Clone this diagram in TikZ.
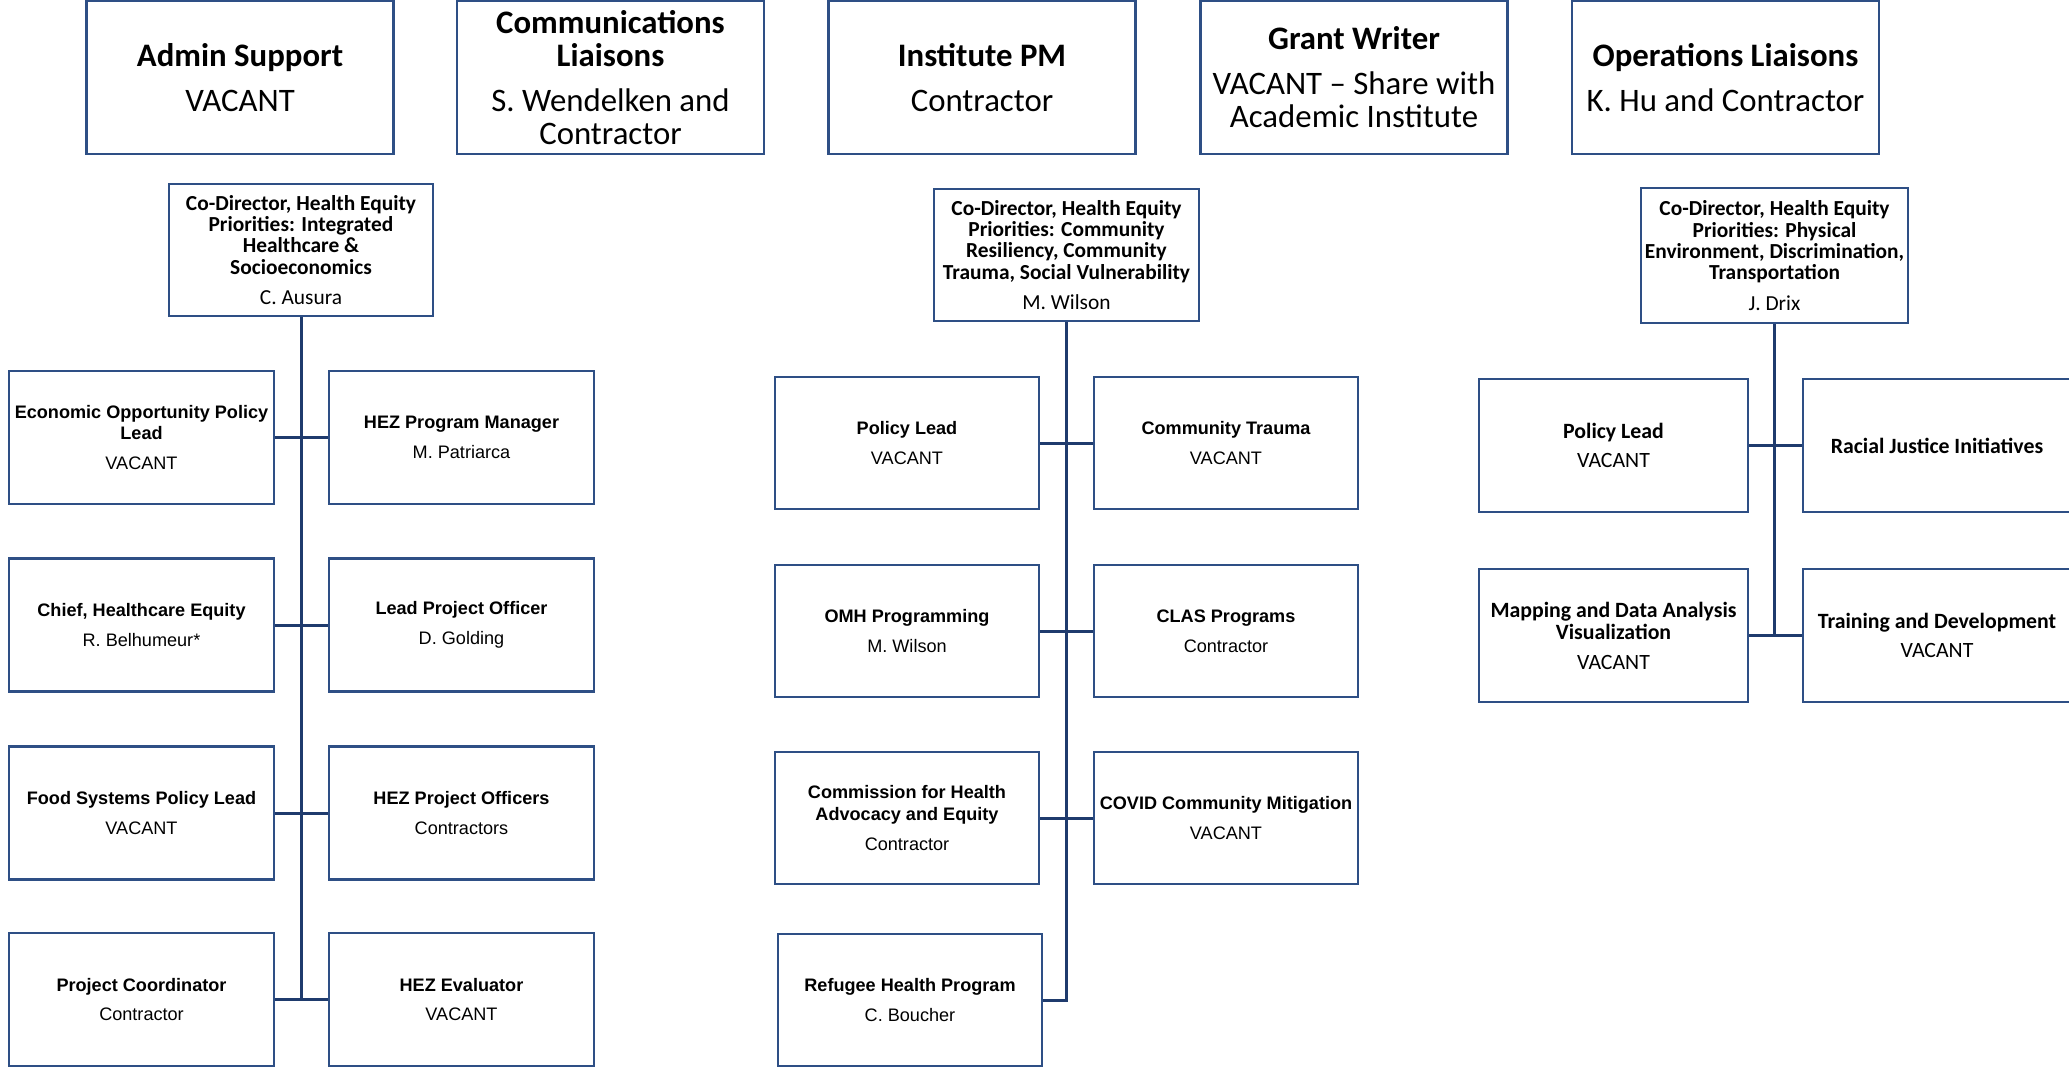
\documentclass[tikz,border=0pt]{standalone}
\usepackage{fontspec}
\setmainfont{Liberation Sans}
\newfontfamily\condf{Carlito}
\definecolor{linec}{HTML}{1F3B6D}
\definecolor{borderc}{HTML}{2E4F85}
\tikzset{
  box/.style={draw=borderc, line width=2.5pt, fill=white, align=center, inner sep=1pt},
  topbox/.style={box, minimum width=307pt, minimum height=153pt, font=\condf\fontsize{32.8}{33}\selectfont\bfseries},
  dirbox/.style={box, minimum width=265pt, minimum height=132pt, font=\condf\fontsize{21.4}{21.3}\selectfont\bfseries},
  kidbox/.style={box, minimum width=265pt, minimum height=133pt, font=\fontsize{18.1}{21.7}\selectfont\bfseries},
  rkidbox/.style={box, minimum width=268pt, minimum height=133pt, font=\condf\fontsize{21.8}{22.5}\selectfont\bfseries},
  conn/.style={draw=linec, line width=3pt}
}
\begin{document}
\begin{tikzpicture}[x=1pt,y=-1pt]
\useasboundingbox (0,0) rectangle (2069,1067);
\fill[white] (0,0) rectangle (2069,1067);

% top row
\node[topbox] (admin) at (240,77.5) {Admin Support\\[12pt]\mdseries VACANT};
\node[topbox] (comm) at (610.5,77.5) {Communications\\Liaisons\\[12pt]\mdseries S. Wendelken and\\\mdseries Contractor};
\node[topbox] (inst) at (982,77.5) {Institute PM\\[12pt]\mdseries Contractor};
\node[topbox] (grant) at (1354,77.5) {Grant Writer\\[12pt]\mdseries VACANT – Share with\\\mdseries Academic Institute};
\node[topbox] (ops) at (1725.5,77.5) {Operations Liaisons\\[12pt]\mdseries K. Hu and Contractor};

% co-directors
\node[dirbox, minimum width=264pt] (cd1) at (301,250) {Co-Director, Health Equity\\Priorities: Integrated\\Healthcare \&\\Socioeconomics\\[9pt]\mdseries C. Ausura};
\node[dirbox] (cd2) at (1066.5,255) {Co-Director, Health Equity\\Priorities: Community\\Resiliency, Community\\Trauma, Social Vulnerability\\[9pt]\mdseries M. Wilson};
\node[dirbox, minimum width=267pt, minimum height=135pt] (cd3) at (1774.5,255.5) {Co-Director, Health Equity\\Priorities: Physical\\Environment, Discrimination,\\Transportation\\[9pt]\mdseries J. Drix};

% left column
\node[kidbox] (eo) at (141.5,437.5) {Economic Opportunity Policy\\Lead\\[8pt]\mdseries VACANT};
\node[kidbox] (hpm) at (461.5,437.5) {HEZ Program Manager\\[8pt]\mdseries M. Patriarca};
\node[kidbox] (chief) at (141.5,625) {Chief, Healthcare Equity\\[8pt]\mdseries R. Belhumeur*};
\node[kidbox] (lpo) at (461.5,625) {Lead Project Officer\\[8pt]\mdseries D. Golding};
\node[kidbox] (fsp) at (141.5,813) {Food Systems Policy Lead\\[8pt]\mdseries VACANT};
\node[kidbox] (hpo) at (461.5,813) {HEZ Project Officers\\[8pt]\mdseries Contractors};
\node[kidbox] (pc) at (141.5,999.5) {Project Coordinator\\[8pt]\mdseries Contractor};
\node[kidbox] (hev) at (461.5,999.5) {HEZ Evaluator\\[8pt]\mdseries VACANT};

% middle column
\node[kidbox, minimum width=264pt, minimum height=132pt] (pl2) at (907,443) {Policy Lead\\[8pt]\mdseries VACANT};
\node[kidbox, minimum width=264pt, minimum height=132pt] (ct) at (1226,443) {Community Trauma\\[8pt]\mdseries VACANT};
\node[kidbox, minimum width=264pt, minimum height=132pt] (omh) at (907,631) {OMH Programming\\[8pt]\mdseries M. Wilson};
\node[kidbox, minimum width=264pt, minimum height=132pt] (clas) at (1226,631) {CLAS Programs\\[8pt]\mdseries Contractor};
\node[kidbox, minimum width=264pt, minimum height=132pt] (chae) at (907,818) {Commission for Health\\Advocacy and Equity\\[8pt]\mdseries Contractor};
\node[kidbox, minimum width=264pt, minimum height=132pt] (covid) at (1226,818) {COVID Community Mitigation\\[8pt]\mdseries VACANT};
\node[kidbox, minimum width=264pt, minimum height=132pt] (refh) at (910,1000) {Refugee Health Program\\[8pt]\mdseries C. Boucher};

% right column
\node[rkidbox, minimum width=269pt] (pl3) at (1613.5,445.5) {Policy Lead\\[7pt]\mdseries VACANT};
\node[rkidbox] (rji) at (1937,445.5) {Racial Justice Initiatives};
\node[rkidbox, minimum width=269pt] (map) at (1613.5,635.5) {Mapping and Data Analysis\\Visualization\\[7pt]\mdseries VACANT};
\node[rkidbox] (tad) at (1937,635.5) {Training and Development\\[7pt]\mdseries VACANT};

% connectors left
\draw[conn] (cd1.south) -- (cd1.south |- pc.east);
\draw[conn] (eo.east) -- (hpm.west);
\draw[conn] (chief.east) -- (lpo.west);
\draw[conn] (fsp.east) -- (hpo.west);
\draw[conn] (pc.east) -- (hev.west);

% connectors middle
\draw[conn] (cd2.south) -- (cd2.south |- refh.east) -- (refh.east);
\draw[conn] (pl2.east) -- (ct.west);
\draw[conn] (omh.east) -- (clas.west);
\draw[conn] (chae.east) -- (covid.west);

% connectors right
\draw[conn] (cd3.south) -- (cd3.south |- tad.west);
\draw[conn] (pl3.east) -- (rji.west);
\draw[conn] (map.east) -- (tad.west);
\end{tikzpicture}
\end{document}
